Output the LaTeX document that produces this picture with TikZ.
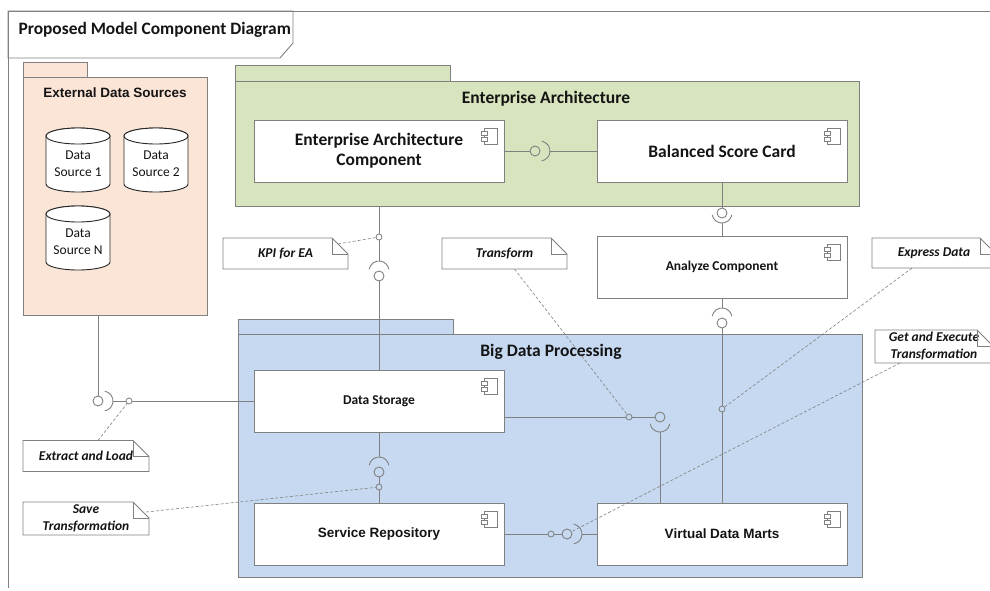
\documentclass[tikz,border=0pt]{standalone}
\usepackage{fontspec}
\setmainfont{Carlito}
\newfontfamily\arialf{Liberation Sans}
\usetikzlibrary{calc}
\definecolor{lineg}{HTML}{808080}
\definecolor{peach}{HTML}{FBE5D6}
\definecolor{eagreen}{HTML}{D7E4BD}
\definecolor{bdblue}{HTML}{C6D9F1}
\definecolor{txt}{HTML}{141414}

% #1 ball name, #2 direction, #3 offset of arc centre from ball centre
\newcommand\sockarc[3]{%
  \draw[conn] (#1) ++(#2:#3) ++(#2-80:10) arc[start angle=#2-80, end angle=#2+80, radius=10];
  \coordinate (#1s) at ($(#1)+(#2:#3+10)$);}
\newcommand\compicon[1]{%
  \draw[iconst] ([xshift=-20pt,yshift=-8pt]#1.north east) rectangle ([xshift=-7pt,yshift=-24pt]#1.north east);
  \draw[iconst,fill=white] ([xshift=-23pt,yshift=-11pt]#1.north east) rectangle ([xshift=-17pt,yshift=-15pt]#1.north east);
  \draw[iconst,fill=white] ([xshift=-23pt,yshift=-17pt]#1.north east) rectangle ([xshift=-17pt,yshift=-21pt]#1.north east);}
\newcommand\noteshape[1]{%
  \draw[notest] (#1.north west) -- ([xshift=-16pt]#1.north east) -- ([yshift=-16pt]#1.north east) -- (#1.south east) -- (#1.south west) -- cycle;
  \draw[notest] ([xshift=-16pt]#1.north east) -- ([xshift=-16pt,yshift=-16pt]#1.north east) -- ([yshift=-16pt]#1.north east);}
\newcommand\dbcyl[4]{%
  \draw[dbline] (#2-32,#3-24) -- (#2-32,#3+24) arc[start angle=180,end angle=0,x radius=32,y radius=8] -- (#2+32,#3-24) arc[start angle=0,end angle=-180,x radius=32,y radius=8] -- cycle;
  \draw[dbline] (#2,#3-24) ellipse [x radius=32,y radius=8];
  \node[dbtext] (#1) at (#2,#3+4) {#4};}

\begin{document}
\begin{tikzpicture}[x=1pt,y=-1pt,
  frame/.style={draw=lineg, line width=0.9pt},
  pkg/.style={draw=lineg, line width=0.9pt, inner sep=0pt, outer sep=0pt},
  comp/.style={draw=lineg, fill=white, line width=0.9pt, minimum width=250pt, minimum height=62pt, inner sep=0pt, outer sep=0pt, align=center, text=txt},
  bigtxt/.style={font=\bfseries\fontsize{17.5}{20}\selectfont},
  smltxt/.style={font=\bfseries\fontsize{13.5}{16}\selectfont},
  arialtxt/.style={font=\arialf\bfseries\fontsize{13.5}{16}\selectfont},
  conn/.style={draw=lineg, line width=0.9pt},
  ball/.style={circle, draw=lineg, line width=0.9pt, minimum size=10pt, inner sep=0pt, outer sep=0pt},
  dot/.style={circle, draw=lineg, line width=0.8pt, minimum size=6pt, inner sep=0pt, outer sep=0pt},
  iconst/.style={draw=lineg, line width=0.6pt},
  notebox/.style={fill=white, inner sep=0pt, outer sep=0pt, align=center, text=txt, font=\bfseries\itshape\fontsize{13.5}{17}\selectfont},
  notest/.style={draw=lineg, line width=0.8pt},
  noteline/.style={draw=lineg, line width=0.6pt, dash pattern=on 3pt off 2pt},
  dbline/.style={draw=black!85, line width=0.9pt, fill=white},
  dbtext/.style={align=center, text=txt, font=\fontsize{13.5}{17}\selectfont}
]
\clip (0,0) rectangle (990,590);
\fill[white] (0,0) rectangle (990,590);

% frame
\draw[frame, fill=white] (8,11) -- (293,11) -- (293,43) -- (280,58) -- (8,58) -- cycle;
\draw[frame] (8,588) -- (8,11) -- (990,11);
\node[anchor=west, text=txt, font=\bfseries\fontsize{17.4}{20}\selectfont] (title) at (15,30) {Proposed Model Component Diagram};

% External Data Sources package
\filldraw[pkg, fill=peach] (23,62) rectangle (87,77);
\node[pkg, fill=peach, minimum width=184pt, minimum height=238pt] (EDS) at (115,196) {};
\node[arialtxt, text=txt] (EDSt) at (115,93) {External Data Sources};
\dbcyl{ds1}{78}{160}{Data\\Source 1}
\dbcyl{ds2}{156}{160}{Data\\Source 2}
\dbcyl{dsn}{78}{238}{Data\\Source N}

% Enterprise Architecture package
\filldraw[pkg, fill=eagreen] (235,65) rectangle (450,81);
\node[pkg, fill=eagreen, minimum width=624pt, minimum height=125pt] (EA) at (547,143.5) {};
\node[bigtxt, text=txt] (EAt) at (546,99) {Enterprise Architecture};
\node[comp, bigtxt] (EAC) at (379,151) {Enterprise Architecture\\Component};
\node[comp, bigtxt] (BSC) at (722,151) {Balanced Score Card};
\compicon{EAC}
\compicon{BSC}

% Big Data Processing package
\filldraw[pkg, fill=bdblue] (238,319) rectangle (453,334);
\node[pkg, fill=bdblue, minimum width=624pt, minimum height=243pt] (BDP) at (550,455.5) {};
\node[bigtxt, text=txt] (BDPt) at (551,352) {Big Data Processing};
\node[comp, smltxt] (DS) at (379,401) {Data Storage};
\node[comp, arialtxt] (SR) at (379,534) {Service Repository};
\node[comp, arialtxt] (VDM) at (722,534) {Virtual Data Marts};
\compicon{DS}
\compicon{SR}
\compicon{VDM}

% Analyze component
\node[comp, smltxt] (ANA) at (722,267) {Analyze Component};
\compicon{ANA}

% balls, sockets, dots
\node[ball] (b1) at (535,151) {};  \sockarc{b1}{0}{5}
\node[ball] (b2) at (722,213) {};  \sockarc{b2}{90}{0}
\node[ball] (b3) at (722,323) {};  \sockarc{b3}{270}{5}
\node[ball] (b4) at (379,276) {};  \sockarc{b4}{270}{5}
\node[ball] (b5) at (379,472) {};  \sockarc{b5}{270}{5}
\node[ball] (b6) at (660,417) {};  \sockarc{b6}{90}{5}
\node[ball] (b7) at (567,534) {};  \sockarc{b7}{0}{5}
\node[ball] (b8) at (98,401) {};   \sockarc{b8}{0}{5}
\node[dot] (kEL) at (129,401) {};
\node[dot] (kKPI) at (379,237) {};
\node[dot] (kSave) at (379,487) {};
\node[dot] (kTr) at (629,417) {};
\node[dot] (kEx) at (722,409) {};
\node[dot] (kGE) at (551,534) {};

% connectors
\draw[conn] (EAC) -- (b1);  \draw[conn] (b1s) -- (BSC);
\draw[conn] (BSC) -- (b2);  \draw[conn] (b2s) -- (ANA);
\draw[conn] (ANA) -- (b3s); \draw[conn] (b3) -- (kEx); \draw[conn] (kEx) -- (VDM);
\draw[conn] (b4 |- EA.south) -- (kKPI); \draw[conn] (kKPI) -- (b4s); \draw[conn] (b4) -- (DS);
\draw[conn] (DS) -- (b5s); \draw[conn] (b5) -- (kSave); \draw[conn] (kSave) -- (SR);
\draw[conn] (b6 -| DS.east) -- (kTr); \draw[conn] (kTr) -- (b6); \draw[conn] (b6s) -- (b6s |- VDM.north);
\draw[conn] (SR) -- (kGE); \draw[conn] (kGE) -- (b7); \draw[conn] (b7s) -- (VDM);
\draw[conn] (b8 |- EDS.south) -- (b8); \draw[conn] (b8s) -- (kEL); \draw[conn] (kEL) -- (DS);

% notes
\node[notebox, minimum width=126pt, minimum height=31pt] (nEL) at (86,456) {Extract and Load};
\noteshape{nEL}
\node[notebox, minimum width=126pt, minimum height=33pt] (nSave) at (86,518.5) {Save\\Transformation};
\noteshape{nSave}
\node[notebox, minimum width=125pt, minimum height=31pt] (nKPI) at (285.5,253.5) {KPI for EA};
\noteshape{nKPI}
\node[notebox, minimum width=125pt, minimum height=31pt] (nTr) at (504.5,253.5) {Transform};
\noteshape{nTr}
\node[notebox, minimum width=124pt, minimum height=30pt] (nEx) at (934,253) {Express Data};
\noteshape{nEx}
\node[notebox, minimum width=118pt, minimum height=33pt] (nGE) at (934,346.5) {Get and Execute\\Transformation};
\noteshape{nGE}

% note links
\draw[noteline] ([xshift=12pt]nEL.north) -- (kEL);
\draw[noteline] ([xshift=-3pt,yshift=-10pt]nSave.north east) -- (kSave);
\draw[noteline] ([xshift=-10pt,yshift=-6pt]nKPI.north east) -- (kKPI);
\draw[noteline] ([xshift=10pt]nTr.south) -- (kTr);
\draw[noteline] ([xshift=-22pt]nEx.south) -- (kEx);
\draw[noteline] ([xshift=-34pt]nGE.south) -- (b7);
\end{tikzpicture}
\end{document}
